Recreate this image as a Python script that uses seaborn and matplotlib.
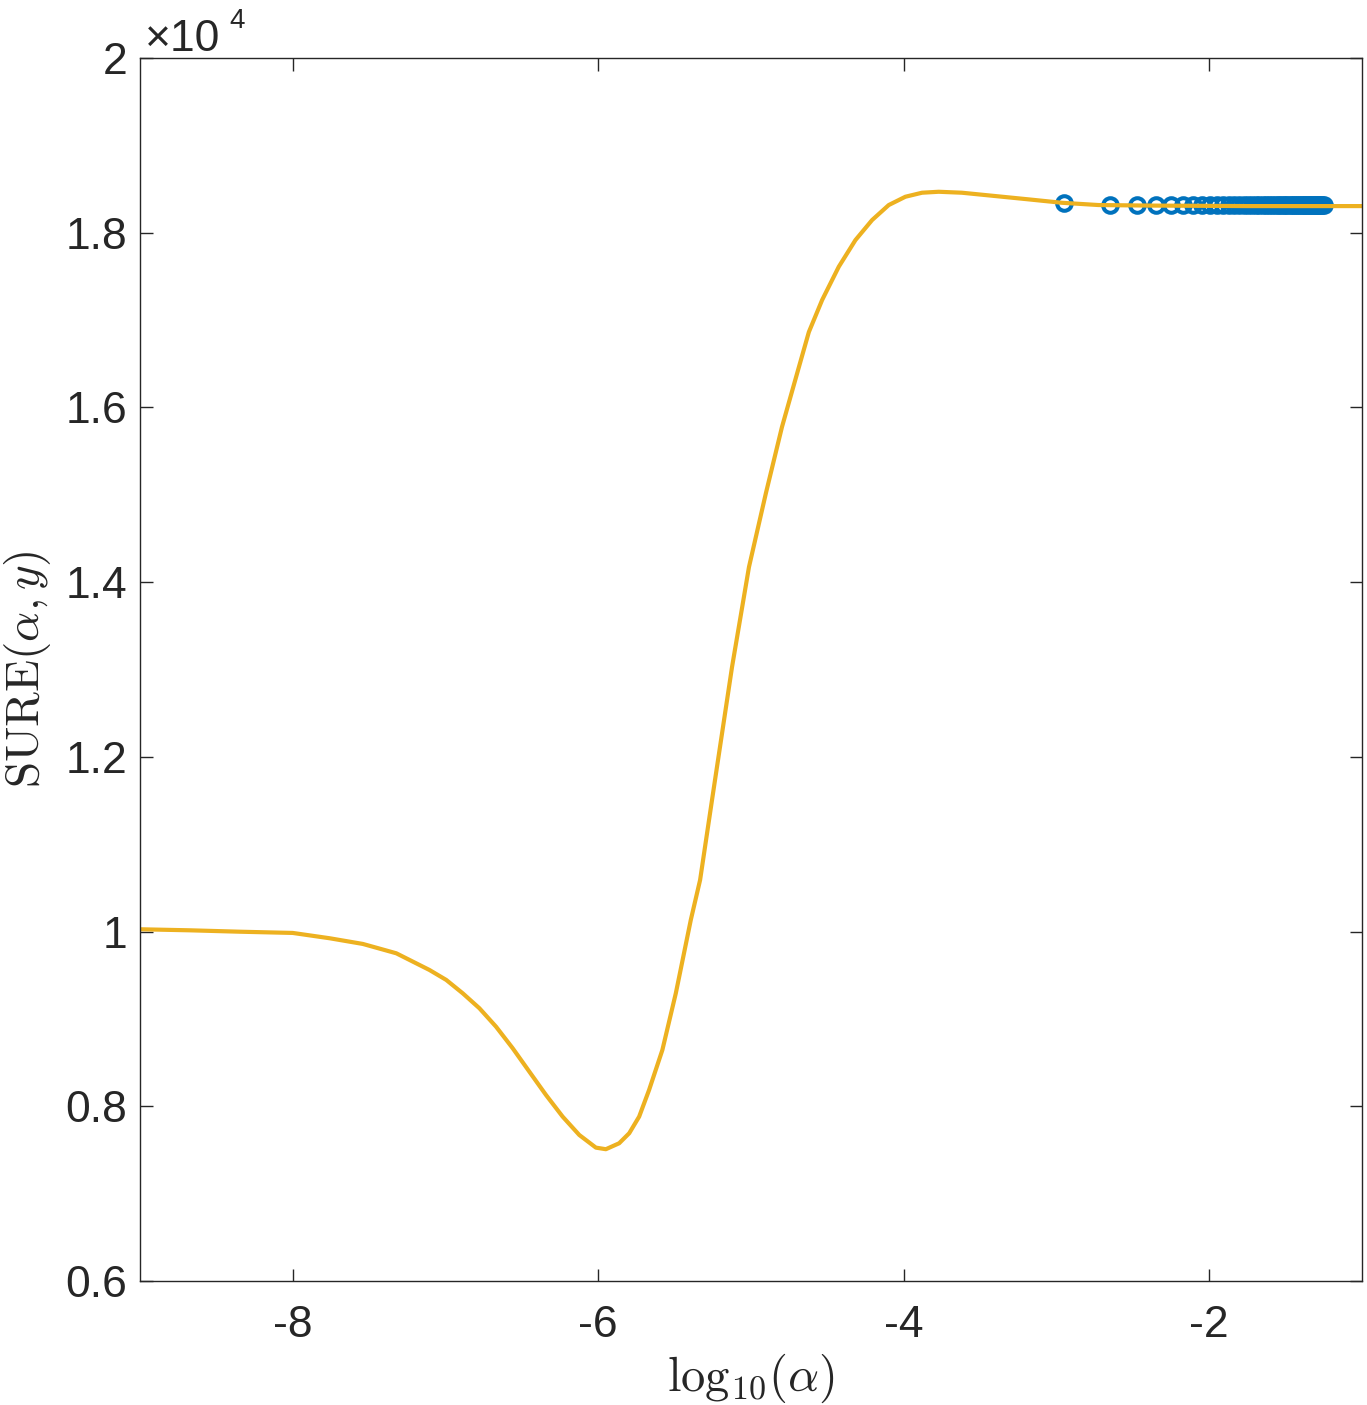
import numpy as np
import pandas as pd
import matplotlib
matplotlib.use("Agg")
import matplotlib.pyplot as plt
import seaborn as sns

# SURE curve (x = log10(alpha), y in units of 1e4)
log_alpha = [-9.000, -8.673, -8.346, -8.000, -7.758, -7.541, -7.322, -7.105,
             -6.995, -6.887, -6.778, -6.669, -6.560, -6.451, -6.342, -6.233,
             -6.124, -6.015, -5.950, -5.863, -5.797, -5.732, -5.667, -5.580,
             -5.492, -5.394, -5.333, -5.255, -5.124, -5.013, -4.902, -4.797,
             -4.686, -4.621, -4.534, -4.425, -4.316, -4.207, -4.098, -3.989,
             -3.880, -3.771, -3.619, -3.401, -3.183, -2.965, -2.725, -2.399,
             -1.745, -1.000]
sure_curve = [1.0026, 1.0014, 0.9998, 0.9984, 0.9923, 0.9858, 0.9751, 0.9560,
              0.9446, 0.9293, 0.9122, 0.8911, 0.8664, 0.8396, 0.8129, 0.7881,
              0.7671, 0.7526, 0.7508, 0.7576, 0.7691, 0.7881, 0.8186, 0.8644,
              0.9293, 1.0132, 1.0590, 1.1506, 1.3028, 1.4173, 1.5020, 1.5776,
              1.6463, 1.6863, 1.7230, 1.7611, 1.7916, 1.8145, 1.8317, 1.8412,
              1.8458, 1.8469, 1.8458, 1.8420, 1.8382, 1.8343, 1.8317, 1.8311,
              1.8305, 1.8305]

# sampled points (blue circles)
pt_log_alpha = [-2.950, -2.649, -2.473, -2.348, -2.251, -2.172, -2.105, -2.047, -1.996, -1.950,
                -1.909, -1.871, -1.836, -1.804, -1.774, -1.746, -1.720, -1.695, -1.671, -1.649,
                -1.628, -1.608, -1.588, -1.570, -1.552, -1.535, -1.519, -1.503, -1.488, -1.473,
                -1.459, -1.445, -1.431, -1.419, -1.406, -1.394, -1.382, -1.370, -1.359, -1.348,
                -1.337, -1.327, -1.317, -1.307, -1.297, -1.287, -1.278, -1.269, -1.260, -1.251]
pt_sure = [1.8345, 1.8322, 1.8318, 1.8316, 1.8315, 1.8314, 1.8313, 1.8313, 1.8312, 1.8312,
           1.8312, 1.8312, 1.8312, 1.8312, 1.8312, 1.8312, 1.8312, 1.8312, 1.8312, 1.8312,
           1.8312, 1.8312, 1.8312, 1.8312, 1.8312, 1.8312, 1.8312, 1.8312, 1.8312, 1.8312,
           1.8312, 1.8312, 1.8312, 1.8312, 1.8312, 1.8312, 1.8312, 1.8312, 1.8312, 1.8312,
           1.8312, 1.8312, 1.8312, 1.8312, 1.8312, 1.8312, 1.8312, 1.8312, 1.8312, 1.8312]

x_ticks = [-8, -6, -4, -2]
y_ticks = [0.6, 0.8, 1.0, 1.2, 1.4, 1.6, 1.8, 2.0]
y_tick_labels = ["0.6", "0.8", "1", "1.2", "1.4", "1.6", "1.8", "2"]

sns.set_theme(style="white")
plt.rcParams['font.family'] = ['Liberation Sans', 'DejaVu Sans']
plt.rcParams['mathtext.fontset'] = 'cm'
plt.rcParams['axes.unicode_minus'] = False

dark = "#262626"
fig = plt.figure(figsize=(13.67, 14.05), dpi=100)
ax = fig.add_axes([0.1024, 0.0883, 0.8939, 0.8704])

curve_df = pd.DataFrame({"log_alpha": log_alpha, "sure": sure_curve})
pts_df = pd.DataFrame({"log_alpha": pt_log_alpha, "sure": pt_sure})

# blue circles first, the yellow curve sits on top
sns.lineplot(data=pts_df, x="log_alpha", y="sure", ax=ax, linestyle="", marker="o",
             markersize=10.5, markerfacecolor="none", markeredgecolor="#0072BD",
             markeredgewidth=2.9, sort=False)
sns.lineplot(data=curve_df, x="log_alpha", y="sure", ax=ax, color="#EDB120",
             linewidth=3.0, sort=False)

ax.set_xlim(-9, -1)
ax.set_ylim(0.6, 2.0)
ax.set_xticks(x_ticks)
ax.set_xticklabels([str(t) for t in x_ticks])
ax.set_yticks(y_ticks)
ax.set_yticklabels(y_tick_labels)

ax.tick_params(axis="both", which="both", direction="in", length=9, width=1.0,
               color=dark, labelcolor=dark, labelsize=32,
               top=True, right=True, bottom=True, left=True)
ax.tick_params(axis="x", pad=17)
ax.tick_params(axis="y", pad=9)
for s in ax.spines.values():
    s.set_color(dark)
    s.set_linewidth(1.0)

ax.set_xlabel(r"$\mathrm{log}_{10}(\alpha)$", fontsize=35, color=dark)
ax.set_ylabel(r"$\mathrm{SURE}(\alpha,y)$", fontsize=34, color=dark)
ax.xaxis.set_label_coords(0.5, -0.058)
ax.yaxis.set_label_coords(-0.071, 0.5)

# MATLAB-style exponent above the axes
ax.text(0.004, 0.998, "×10", transform=ax.transAxes, fontsize=32, color=dark,
        ha="left", va="bottom")
ax.text(0.073, 1.020, "4", transform=ax.transAxes, fontsize=20, color=dark,
        ha="left", va="bottom")

fig.savefig("out.png", dpi=100, facecolor="white")
